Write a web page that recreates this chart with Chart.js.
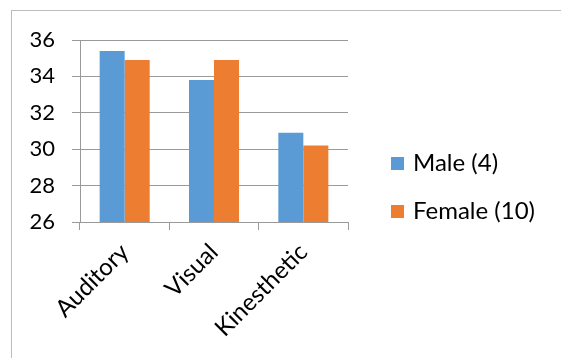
<!DOCTYPE html>
<html>
<head>
<meta charset="utf-8">
<script src="https://cdn.jsdelivr.net/npm/chart.js@4"></script>
<style>
  html, body { margin: 0; padding: 0; background: #fff; }
  #frame { position: absolute; left: 11px; top: 10px; width: 600px; height: 400px; border: 1px solid #bcbcbc; }
  #wrap { position: absolute; left: 0; top: 0; width: 561px; height: 358px; }
</style>
</head>
<body>
<div id="frame"></div>
<div id="wrap"><canvas id="chart"></canvas></div>
<script>
// Learning style scores by gender
const categories = ['Auditory', 'Visual', 'Kinesthetic'];
const maleScores = [35.4, 33.8, 30.9];
const femaleScores = [34.9, 34.9, 30.2];
const seriesNames = ['Male (4)', 'Female (10)'];
const yTicks = [26, 28, 30, 32, 34, 36];

const gridColor = '#9a9a9a';
const tickFont = { family: 'Lato', size: 22 };
const labelFont = { family: 'Lato', size: 24 };

// legend on the right, drawn from the datasets (Excel style spacing)
const sideLegend = {
    id: 'sideLegend',
    afterDraw(chart) {
        const c = chart.ctx;
        c.save();
        c.font = labelFont.size + 'px ' + labelFont.family;
        c.textBaseline = 'alphabetic';
        chart.data.datasets.forEach((ds, i) => {
            const base = 171 + i * 48;
            c.fillStyle = ds.backgroundColor;
            c.fillRect(391, base - 14, 13, 13);
            c.fillStyle = '#000';
            c.fillText(ds.label, 413, base);
        });
        c.restore();
    }
};

const ctx = document.getElementById('chart').getContext('2d');
new Chart(ctx, {
    type: 'bar',
    data: {
        labels: categories,
        datasets: [{
            label: seriesNames[0],
            data: maleScores,
            backgroundColor: '#5b9bd5',
            categoryPercentage: 0.56,
            barPercentage: 1.0
        }, {
            label: seriesNames[1],
            data: femaleScores,
            backgroundColor: '#ed7d31',
            categoryPercentage: 0.56,
            barPercentage: 1.0
        }]
    },
    options: {
        responsive: true,
        maintainAspectRatio: false,
        devicePixelRatio: 1,
        animation: false,
        layout: { padding: { top: 40, bottom: 0, left: 0, right: 213 } },
        plugins: {
            tooltip: { enabled: false },
            legend: { display: false }
        },
        scales: {
            x: {
                grid: { offset: true, drawOnChartArea: false, tickLength: 8, color: gridColor },
                border: { color: gridColor },
                ticks: { color: '#000', font: labelFont, minRotation: 45, maxRotation: 45, padding: 8 },
                afterFit: s => { s.height = 136; }
            },
            y: {
                min: 26,
                max: 36,
                grid: { color: gridColor, tickLength: 8 },
                border: { color: gridColor },
                afterBuildTicks: s => { s.ticks = yTicks.map(v => ({ value: v })); },
                ticks: { color: '#000', font: tickFont, padding: 17 },
                afterFit: s => { s.width = 80; }
            }
        }
    },
    plugins: [sideLegend]
});
</script>
</body>
</html>
